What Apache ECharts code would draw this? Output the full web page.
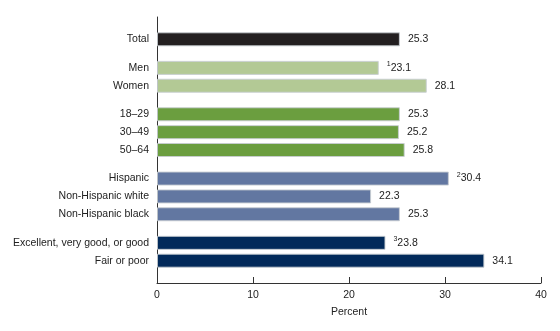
<!DOCTYPE html>
<html>
<head>
<meta charset="utf-8">
<script src="https://cdn.jsdelivr.net/npm/echarts@6/dist/echarts.min.js"></script>
<style>
html,body{margin:0;padding:0;background:#fff;}
#chart{width:560px;height:331px;}
</style>
</head>
<body>
<div id="chart"></div>
<script>
// ---- data ----
const categories = ['Total', 'Men', 'Women', '18–29', '30–49', '50–64', 'Hispanic', 'Non-Hispanic white', 'Non-Hispanic black', 'Excellent, very good, or good', 'Fair or poor'];
const values = [25.3, 23.1, 28.1, 25.3, 25.2, 25.8, 30.4, 22.3, 25.3, 23.8, 34.1];
const notes = ['', '1', '', '', '', '', '2', '', '', '3', ''];
const groupSizes = [1, 2, 3, 3, 2];
const groupColors = ['#231f20', '#b3c995', '#6b9e3f', '#6277a1', '#022a5a'];
const xTickValues = [0, 10, 20, 30, 40];
const xAxisTitle = 'Percent';

// ---- layout (slots on a fine category axis) ----
const SLOTS_ROW = 10, SLOTS_GAP = 16, LEAD = 12, TOTAL_SLOTS = 149;

const axisCats = [];
for (let i = 0; i < TOTAL_SLOTS; i++) axisCats.push('_s' + i);
const barData = new Array(TOTAL_SLOTS).fill('-');
const slotItem = {};
let pos = LEAD, k = 0;
groupSizes.forEach((size, g) => {
  for (let j = 0; j < size; j++) {
    axisCats[pos] = categories[k];
    barData[pos] = { value: values[k], itemStyle: { color: groupColors[g] } };
    slotItem[pos] = k;
    k++;
    pos += (j === size - 1) ? SLOTS_GAP : SLOTS_ROW;
  }
});

const FONT = '"Liberation Sans", Arial, Helvetica, sans-serif';
const FS = 10.5;
const chart = echarts.init(document.getElementById('chart'), null, { renderer: 'canvas' });
chart.setOption({
  animation: false,
  backgroundColor: '#fff',
  grid: { left: 157, right: 19, top: 17, bottom: 48 },
  xAxis: {
    type: 'value',
    min: xTickValues[0],
    max: xTickValues[xTickValues.length - 1],
    interval: 10,
    name: xAxisTitle,
    nameLocation: 'middle',
    nameGap: 24,
    nameTextStyle: { fontFamily: FONT, fontSize: FS, color: '#222' },
    axisLine: { show: true, lineStyle: { color: '#333', width: 1 } },
    axisTick: { show: true, inside: true, length: 6, lineStyle: { color: '#333' } },
    axisLabel: { fontFamily: FONT, fontSize: FS, color: '#222', margin: 7 },
    splitLine: { show: false }
  },
  yAxis: {
    type: 'category',
    inverse: true,
    data: axisCats,
    axisLine: { show: true, lineStyle: { color: '#333', width: 1 } },
    axisTick: { show: false },
    axisLabel: {
      interval: 0,
      margin: 8,
      fontFamily: FONT, fontSize: FS, color: '#222',
      formatter: v => (v.startsWith('_s') ? '' : v)
    },
    splitLine: { show: false }
  },
  series: [{
    type: 'bar',
    data: barData,
    barWidth: 14,
    itemStyle: { borderColor: 'rgba(200,205,210,0.9)', borderWidth: 1 },
    label: {
      show: true,
      position: 'right',
      distance: 8,
      fontFamily: FONT,
      fontSize: FS,
      color: '#222',
      formatter: p => {
        const idx = slotItem[p.dataIndex];
        const n = notes[idx];
        const v = values[idx].toFixed(1);
        return n ? '{sup|' + n + '}{v|' + v + '}' : '{v|' + v + '}';
      },
      rich: {
        v: { fontFamily: FONT, fontSize: FS, color: '#222', lineHeight: 14 },
        sup: { fontFamily: FONT, fontSize: 7, color: '#222', verticalAlign: 'top', lineHeight: 14, padding: [0, 0, 4, 0] }
      }
    }
  }]
});
</script>
</body>
</html>
